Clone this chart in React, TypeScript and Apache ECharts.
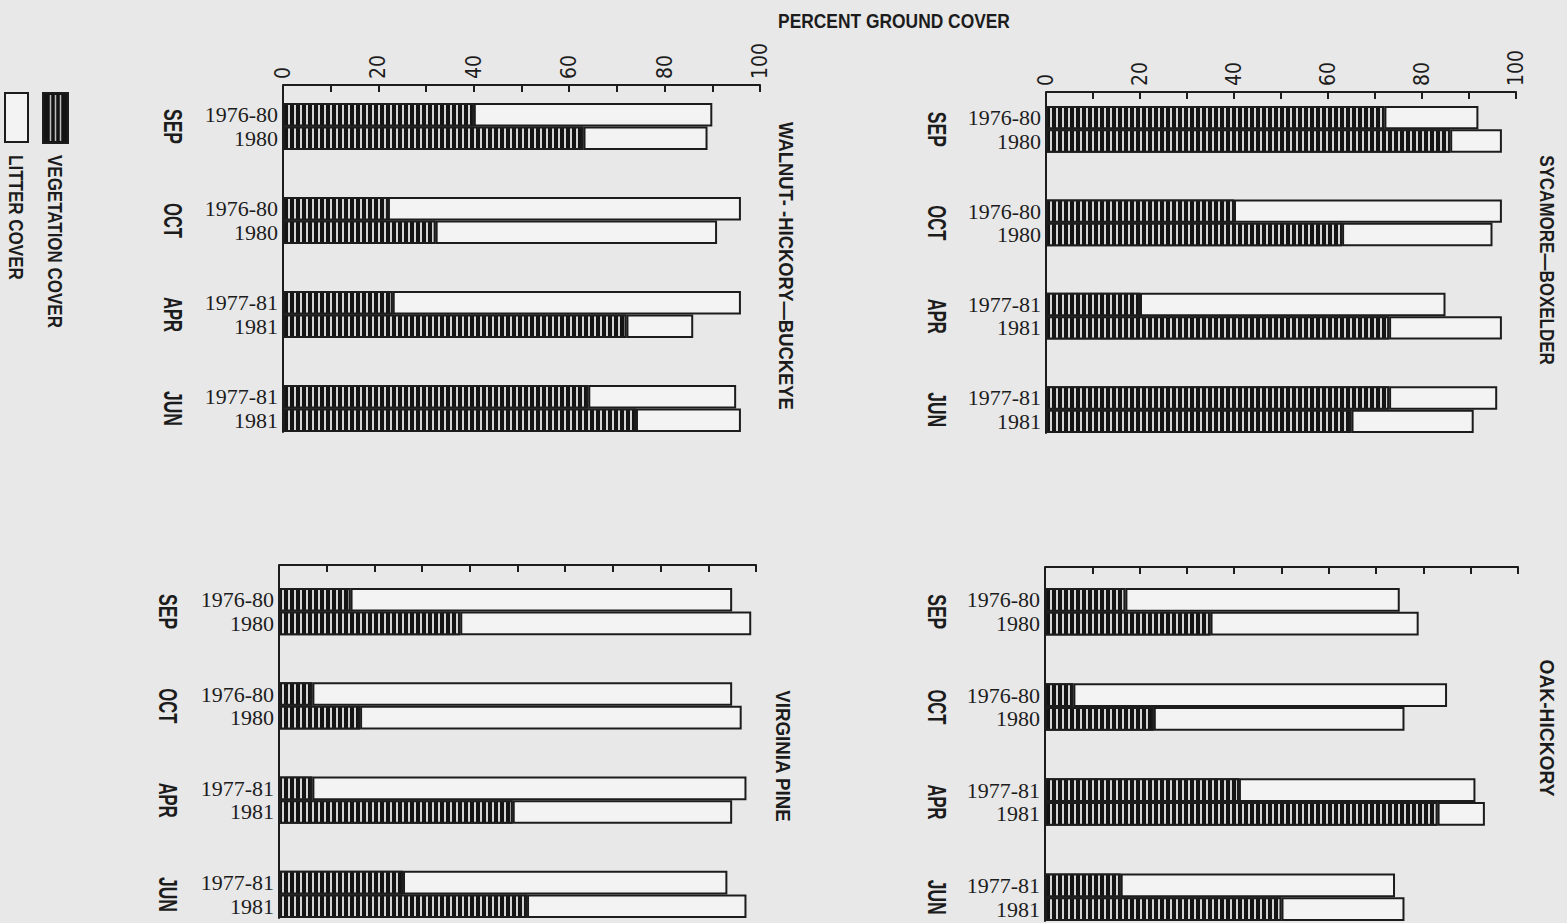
import React, { useEffect, useRef } from 'react';
import * as echarts from 'echarts';

// ---------- data ----------
const months = ['SEP', 'OCT', 'APR', 'JUN'];
const periods = [
  ['1976-80', '1980'],
  ['1976-80', '1980'],
  ['1977-81', '1981'],
  ['1977-81', '1981'],
];
const tickLabels = [0, 20, 40, 60, 80, 100];
const panelNames = ['WALNUT- -HICKORY—BUCKEYE', 'SYCAMORE—BOXELDER', 'VIRGINIA PINE', 'OAK-HICKORY'];
const seriesNames = ['VEGETATION COVER', 'LITTER COVER'];
const axisTitle = 'PERCENT GROUND COVER';

// order: SEP 1976-80, SEP 1980, OCT 1976-80, OCT 1980, APR 1977-81, APR 1981, JUN 1977-81, JUN 1981
const walnutVegetation = [40, 63, 22, 32, 23, 72, 64, 74];
const walnutLitter = [50, 26, 74, 59, 73, 14, 31, 22];
const sycamoreVegetation = [72, 86, 40, 63, 20, 73, 73, 65];
const sycamoreLitter = [20, 11, 57, 32, 65, 24, 23, 26];
const pineVegetation = [15, 38, 7, 17, 7, 49, 26, 52];
const pineLitter = [80, 61, 88, 80, 91, 46, 68, 46];
const oakVegetation = [17, 35, 6, 23, 41, 83, 16, 50];
const oakLitter = [58, 44, 79, 53, 50, 10, 58, 26];

const panelVegetation = [walnutVegetation, sycamoreVegetation, pineVegetation, oakVegetation];
const panelLitter = [walnutLitter, sycamoreLitter, pineLitter, oakLitter];

// ---------- layout ----------
const W = 1567;
const H = 923;
const BG = '#e8e8e8';
const INK = '#1c1c1c';
const LITTER_FILL = '#f3f3f3';
const SANS = 'Liberation Sans';
const NARROW = "'Liberation Sans Narrow', 'DejaVu Sans Condensed', 'Liberation Sans', sans-serif";

const PANELS = [
  { left: 283, right: 760, axisY: 85, top: 103, bottom: 432, labels: true, monthX: 173, titleX: 786, titleY: 266, titleLen: 288 },
  { left: 1046, right: 1516, axisY: 92, top: 106, bottom: 433, labels: true, monthX: 937, titleX: 1547, titleY: 260, titleLen: 210 },
  { left: 279, right: 756, axisY: 565, top: 588, bottom: 918, labels: false, monthX: 168, titleX: 783, titleY: 756, titleLen: 132 },
  { left: 1045, right: 1518, axisY: 567, top: 588, bottom: 921, labels: false, monthX: 937, titleX: 1547, titleY: 728, titleLen: 137 },
];

const buildCategories = () => {
  const out: string[] = [];
  months.forEach((m, k) => {
    out.push(`${m}|${periods[k][0]}`, `${m}|${periods[k][1]}`);
    if (k < months.length - 1) out.push(`_gap${k}a`, `_gap${k}b`);
  });
  return out;
};

const expand = (vals: number[]) => {
  const out: (number | string)[] = [];
  vals.forEach((v, k) => {
    out.push(v);
    if (k % 2 === 1 && k < vals.length - 1) out.push('-', '-');
  });
  return out;
};

let measureCtx: CanvasRenderingContext2D | null = null;
const measure = (text: string, font: string) => {
  if (!measureCtx) measureCtx = document.createElement('canvas').getContext('2d');
  if (!measureCtx) return text.length * 12;
  measureCtx.font = font;
  return measureCtx.measureText(text).width;
};

const scaledText = (
  text: string,
  x: number,
  y: number,
  size: number,
  weight: string,
  targetLen: number,
  rotated: boolean,
  align: string
) => {
  const font = `${weight} ${size}px ${SANS}`;
  const w = measure(text, font);
  return {
    type: 'text',
    x,
    y,
    rotation: rotated ? -Math.PI / 2 : 0,
    scaleX: targetLen / w,
    scaleY: 1,
    silent: true,
    style: {
      text,
      font,
      fill: INK,
      align,
      textAlign: align,
      verticalAlign: 'middle',
      textVerticalAlign: 'middle',
    },
  };
};

export default function App() {
  const ref = useRef<HTMLDivElement>(null);

  useEffect(() => {
    if (!ref.current) return;
    const chart = echarts.init(ref.current, null, { renderer: 'svg', width: W, height: H });
    const categories = buildCategories();

    const grids = PANELS.map((p) => ({
      left: p.left,
      top: p.top,
      width: p.right - p.left,
      height: p.bottom - p.top,
      containLabel: false,
    }));

    const xAxes = PANELS.map((p, i) => ({
      gridIndex: i,
      type: 'value',
      position: 'top',
      min: 0,
      max: 100,
      interval: 10,
      offset: p.top - p.axisY,
      axisLine: { show: true, lineStyle: { color: INK, width: 2 } },
      axisTick: { show: true, inside: true, length: 7, lineStyle: { color: INK, width: 2 } },
      axisLabel: {
        show: p.labels,
        rotate: -90,
        margin: 6,
        fontFamily: NARROW,
        fontSize: 21,
        color: INK,
        showMinLabel: true,
        showMaxLabel: true,
        formatter: (v: number) => (tickLabels.includes(v) ? String(v) : ''),
      },
      splitLine: { show: false },
    }));

    const yAxes = PANELS.map((p, i) => ({
      gridIndex: i,
      type: 'category',
      inverse: true,
      data: categories,
      axisLine: { show: true, onZero: false, lineStyle: { color: INK, width: 2 } },
      axisTick: { show: false },
      axisLabel: {
        interval: 0,
        margin: 5,
        fontFamily: 'Liberation Serif',
        fontSize: 22,
        color: INK,
        formatter: (n: string) => (n.startsWith('_') ? '' : n.split('|')[1]),
      },
      splitLine: { show: false },
    }));

    const series: any[] = [];
    PANELS.forEach((p, i) => {
      series.push({
        type: 'bar',
        name: seriesNames[0],
        xAxisIndex: i,
        yAxisIndex: i,
        stack: 'cover' + i,
        barCategoryGap: '0%',
        silent: true,
        data: expand(panelVegetation[i]),
        itemStyle: {
          color: '#141414',
          borderColor: INK,
          borderWidth: 2,
          decal: {
            symbol: 'rect',
            symbolSize: 1,
            color: '#d4d4d4',
            dashArrayX: [1.4, 3.9],
            dashArrayY: [10, 0],
            rotation: 0,
          },
        },
      });
      series.push({
        type: 'bar',
        name: seriesNames[1],
        xAxisIndex: i,
        yAxisIndex: i,
        stack: 'cover' + i,
        barCategoryGap: '0%',
        silent: true,
        data: expand(panelLitter[i]),
        itemStyle: { color: LITTER_FILL, borderColor: INK, borderWidth: 2 },
      });
    });

    chart.setOption({
      animation: false,
      backgroundColor: BG,
      grid: grids,
      xAxis: xAxes,
      yAxis: yAxes,
      series,
    });

    // annotation graphics
    const graphics: any[] = [];
    graphics.push(scaledText(axisTitle, 894, 21, 21, 'bold', 232, false, 'center'));

    PANELS.forEach((p, i) => {
      // connect vertical axis line up to the offset top axis
      graphics.push({
        type: 'line',
        silent: true,
        shape: { x1: p.left, y1: p.axisY, x2: p.left, y2: p.top },
        style: { stroke: INK, lineWidth: 2 },
      });
      // panel title
      graphics.push(scaledText(panelNames[i], p.titleX, p.titleY, 20, 'bold', p.titleLen, true, 'center'));
      // month labels centered on each pair of bars
      months.forEach((m, k) => {
        const idx = categories.indexOf(`${m}|${periods[k][0]}`);
        const a = chart.convertToPixel({ gridIndex: i }, [0, idx]) as number[];
        const b = chart.convertToPixel({ gridIndex: i }, [0, idx + 1]) as number[];
        const cy = (a[1] + b[1]) / 2;
        graphics.push(scaledText(m, p.monthX, cy, 26, 'bold', 35, true, 'center'));
      });
    });

    // legend (vertical text)
    const vegSwatch = { x: 43, y: 93, w: 25, h: 50 };
    const litSwatch = { x: 5, y: 93, w: 23, h: 49 };
    graphics.push({
      type: 'rect',
      silent: true,
      shape: { x: vegSwatch.x, y: vegSwatch.y, width: vegSwatch.w, height: vegSwatch.h },
      style: { fill: '#141414', stroke: INK, lineWidth: 2 },
    });
    [0.3, 0.5, 0.7].forEach((f) => {
      graphics.push({
        type: 'line',
        silent: true,
        shape: {
          x1: vegSwatch.x + vegSwatch.w * f,
          y1: vegSwatch.y + 2,
          x2: vegSwatch.x + vegSwatch.w * f,
          y2: vegSwatch.y + vegSwatch.h - 2,
        },
        style: { stroke: '#bdbdbd', lineWidth: 1.5 },
      });
    });
    graphics.push({
      type: 'rect',
      silent: true,
      shape: { x: litSwatch.x, y: litSwatch.y, width: litSwatch.w, height: litSwatch.h },
      style: { fill: LITTER_FILL, stroke: INK, lineWidth: 2 },
    });
    graphics.push(scaledText(seriesNames[0], 55, 155, 20, 'bold', 173, true, 'left'));
    graphics.push(scaledText(seriesNames[1], 16, 155, 20, 'bold', 125, true, 'left'));

    chart.setOption({ graphic: graphics });

    return () => chart.dispose();
  }, []);

  return (
    <div
      style={{ position: 'absolute', left: 0, top: 0, width: W, height: H, background: BG, overflow: 'hidden' }}
    >
      <div ref={ref} style={{ width: W, height: H }} />
    </div>
  );
}
